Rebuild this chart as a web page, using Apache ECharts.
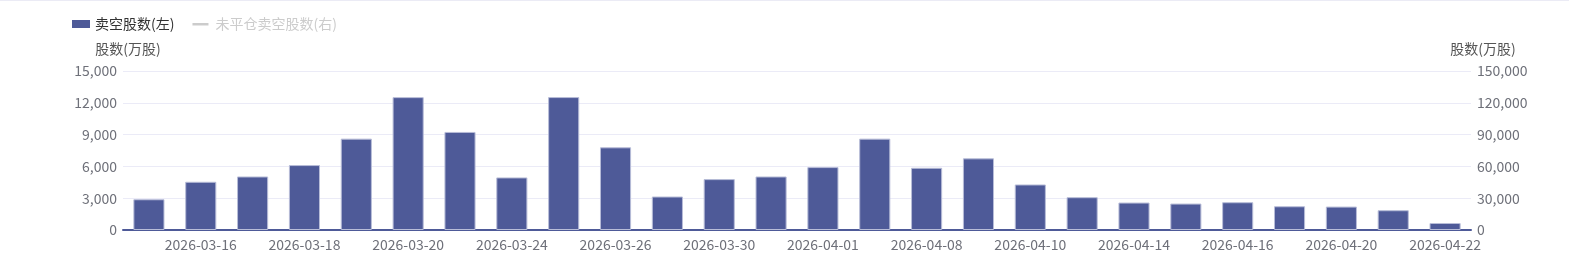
<!DOCTYPE html>
<html><head><meta charset="utf-8">
<script src="https://cdn.jsdelivr.net/npm/echarts@6/dist/echarts.min.js"></script>
<style>html,body{margin:0;padding:0;background:#fff;}#c{width:1569px;height:256px;border-top:1px solid #ebebf5;}</style>
</head><body><div id="c"></div>
<script>
const categories = ["2026-03-13","2026-03-16","2026-03-17","2026-03-18","2026-03-19","2026-03-20","2026-03-23","2026-03-24","2026-03-25","2026-03-26","2026-03-27","2026-03-30","2026-03-31","2026-04-01","2026-04-02","2026-04-08","2026-04-09","2026-04-10","2026-04-13","2026-04-14","2026-04-15","2026-04-16","2026-04-17","2026-04-20","2026-04-21","2026-04-22"];
const shortVolume = [2900,4550,5050,6125,8620,12535,9250,4960,12540,7800,3160,4800,5050,5935,8620,5870,6760,4295,3095,2590,2495,2620,2240,2210,1865,660];
const openShort = [];
const leftTicks = {min:0,max:15000,interval:3000};
const rightTicks = {min:0,max:150000,interval:30000};

const chart = echarts.init(document.getElementById('c'));
const font = '"Microsoft YaHei","Noto Sans CJK SC",sans-serif';
const odd = (i)=> i % 2 === 1;
chart.setOption({
  animation:false,
  textStyle:{fontFamily:font},
  legend:{left:67,top:11,itemWidth:18,itemHeight:8,itemGap:18,
    textStyle:{fontSize:14,color:'#333',fontFamily:font},
    inactiveColor:'#ccc',
    data:[{name:'卖空股数(左)',icon:'rect',itemStyle:{borderWidth:0}},
          {name:'未平仓卖空股数(右)',icon:'path://M0,0 M18,8 M0,3L16,3L16,5.5L0,5.5Z'}],
    selected:{'未平仓卖空股数(右)':false}},
  grid:{left:123,right:98,top:70,bottom:27},
  xAxis:{type:'category',data:categories,
    axisLine:{lineStyle:{color:'#4e5a98',width:2}},
    axisTick:{alignWithLabel:true,interval:odd,lineStyle:{color:'#4e5a98'}},
    axisLabel:{interval:odd,color:'#6e7079',fontSize:14,fontFamily:font,margin:8}},
  yAxis:[
    {type:'value',name:'股数(万股)',nameTextStyle:{color:'#555',fontSize:14,align:'center',padding:[0,0,0,10]},nameGap:15,
     min:leftTicks.min,max:leftTicks.max,interval:leftTicks.interval,
     axisLabel:{color:'#6e7079',fontSize:14,margin:6,formatter:v=>v.toLocaleString('en-US')},
     splitLine:{lineStyle:{color:'#ebebf7'}},axisLine:{show:false},axisTick:{show:false}},
    {type:'value',name:'股数(万股)',nameTextStyle:{color:'#555',fontSize:14,align:'center',padding:[0,0,0,24]},nameGap:15,
     min:rightTicks.min,max:rightTicks.max,interval:rightTicks.interval,
     axisLabel:{color:'#6e7079',fontSize:14,margin:6,formatter:v=>v.toLocaleString('en-US')},
     splitLine:{show:false},axisLine:{show:false},axisTick:{show:false}}
  ],
  series:[
    {name:'卖空股数(左)',type:'bar',data:shortVolume,barWidth:'60%',yAxisIndex:0,
     itemStyle:{color:'#4e5a98',borderColor:'#b8bdd8',borderWidth:1}},
    {name:'未平仓卖空股数(右)',type:'line',data:openShort,yAxisIndex:1,symbol:'none',
     itemStyle:{color:'#f0a030'},lineStyle:{width:2}}
  ]
});
</script></body></html>
